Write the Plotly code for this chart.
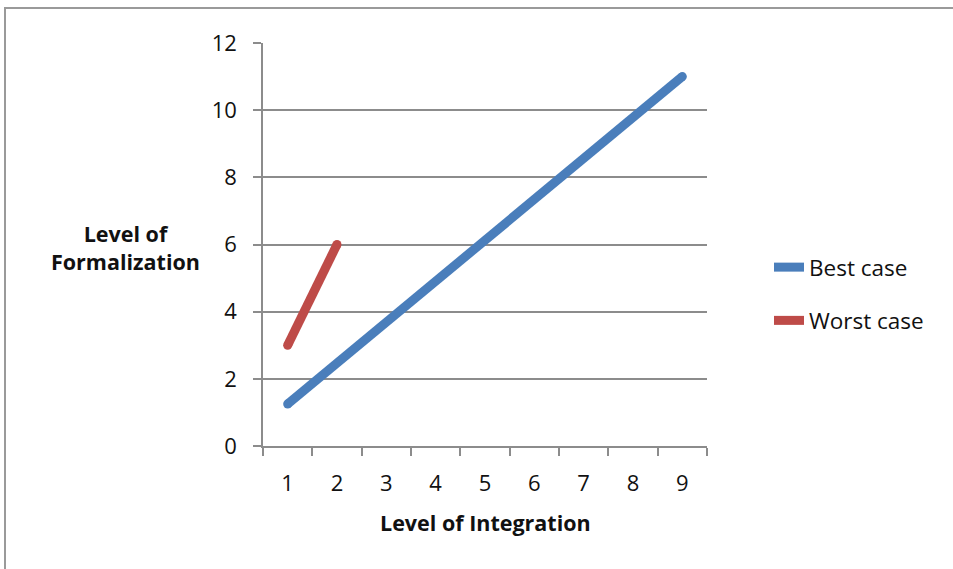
import plotly.graph_objects as go

categories = [1, 2, 3, 4, 5, 6, 7, 8, 9]
tick_labels = ["1", "2", "3", "4", "5", "6", "7", "8", "9"]
best_case = [1.25, 2.47, 3.7, 4.9, 6.12, 7.35, 8.55, 9.8, 11.0]
worst_cats = [1, 2]
worst_case = [3, 6]

BLUE = "#4A7EBB"
RED = "#BE4B48"
FONT = "'Open Sans', Lato, sans-serif"
GRID = "#8c8c8c"
TXT = "#111111"
LW = 9

fig = go.Figure()
fig.add_trace(go.Scatter(x=categories, y=best_case, mode="lines", name="Best case",
                         line=dict(color=BLUE, width=LW), legendgroup="a"))
fig.add_trace(go.Scatter(x=worst_cats, y=worst_case, mode="lines", name="Worst case",
                         line=dict(color=RED, width=LW), legendgroup="b"))
# rounded line ends
fig.add_trace(go.Scatter(x=[categories[0], categories[-1]], y=[best_case[0], best_case[-1]],
                         mode="markers", marker=dict(color=BLUE, size=LW), showlegend=False,
                         hoverinfo="skip"))
fig.add_trace(go.Scatter(x=[worst_cats[0], worst_cats[-1]], y=[worst_case[0], worst_case[-1]],
                         mode="markers", marker=dict(color=RED, size=LW), showlegend=False,
                         hoverinfo="skip"))

L, R, T, B = 263, 246, 43, 123
W, H = 953, 569
pw, ph = W - L - R, H - T - B

fig.update_layout(
    width=W, height=H,
    margin=dict(l=L, r=R, t=T, b=B),
    paper_bgcolor="white", plot_bgcolor="white",
    font=dict(family=FONT, size=22, color=TXT),
    showlegend=True,
    legend=dict(x=(769 - L) / pw, y=(446 - 246) / ph, xanchor="left", yanchor="top",
                font=dict(size=22.5, family=FONT, color=TXT), tracegroupgap=21,
                bgcolor="rgba(0,0,0,0)"),
    xaxis=dict(range=[0.5, 9.5], tickmode="array", tickvals=categories, ticktext=tick_labels,
               showgrid=False, showline=True, linecolor=GRID, linewidth=1.5,
               ticks="", zeroline=False, ticklabelstandoff=17,
               tickfont=dict(size=22),
               minor=dict(tick0=0.5, dtick=1, ticks="outside", ticklen=8, tickcolor=GRID,
                          tickwidth=1.5, showgrid=False)),
    yaxis=dict(range=[0, 12], tickmode="linear", tick0=0, dtick=2,
               showgrid=True, gridcolor=GRID, gridwidth=1.5,
               showline=True, linecolor=GRID, linewidth=1.5,
               ticks="outside", ticklen=8, tickcolor=GRID, tickwidth=1.5,
               tickfont=dict(size=22),
               zeroline=False, ticklabelstandoff=12),
)

fig.add_annotation(text="<b>Level of<br>Formalization</b>", xref="paper", yref="paper",
                   x=(125 - L) / pw, y=(446 - 247) / ph, xanchor="center", yanchor="middle",
                   showarrow=False, font=dict(size=21.5, family=FONT, color=TXT))
fig.add_annotation(text="<b>Level of Integration</b>", xref="paper", yref="paper",
                   x=(485 - L) / pw, y=(446 - 522) / ph, xanchor="center", yanchor="middle",
                   showarrow=False, font=dict(size=21.5, family=FONT, color=TXT))

# outer border (top and left visible)
fig.add_shape(type="rect", xref="paper", yref="paper",
              x0=(5 - L) / pw, x1=(1000 - L) / pw, y0=(446 - 620) / ph, y1=(446 - 8) / ph,
              line=dict(color="#9a9a9a", width=2), layer="below")

fig.write_html("out.html", config={"displayModeBar": False},
               post_script="document.body.style.margin='0';document.body.style.overflow='hidden';")
